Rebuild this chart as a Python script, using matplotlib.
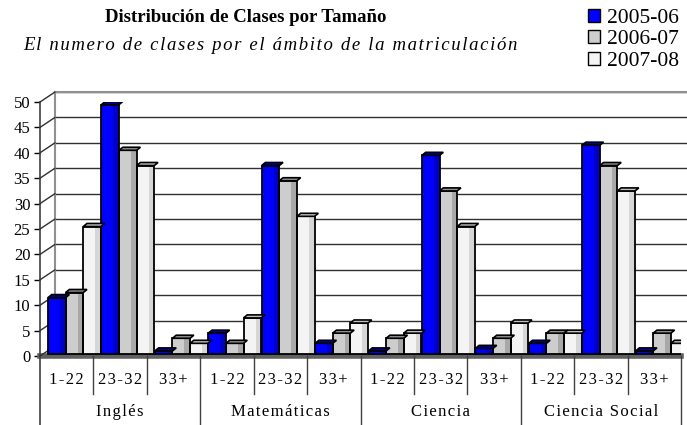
import matplotlib
matplotlib.use("Agg")
import matplotlib.pyplot as plt
import matplotlib.transforms as mtransforms
from matplotlib.patches import Polygon, Patch
import numpy as np

plt.rcParams['font.family'] = ['Liberation Serif', 'DejaVu Serif']

groups = ["Inglés", "Matemáticas", "Ciencia", "Ciencia Social"]
sizes = ["1-22", "23-32", "33+"]
years = ["2005-06", "2006-07", "2007-08"]

# values per group, in order 1-22, 23-32, 33+
v2005 = [11, 49, 0.5, 4, 37, 2, 0.5, 39, 1, 2, 41, 0.5]
v2006 = [12, 40, 3, 2, 34, 4, 3, 32, 3, 4, 37, 4]
v2007 = [25, 37, 2, 7, 27, 6, 4, 25, 6, 4, 32, 2]
series = [v2005, v2006, v2007]

face = ['#0000ff', '#cdcdcd', '#f4f4f4']
side = ['#0000c8', '#a8a8a8', '#d6d6d6']
cap = ['#0000a0', '#909090', '#c0c0c0']


def spaced(s):
    # Excel-like wide letter spacing
    return '\u200a'.join(s)


fig = plt.figure(figsize=(6.87, 4.25), dpi=100)
ax = fig.add_axes([40 / 687, 1 - 356 / 425, 641 / 687, 254 / 425])
ax.set_xlim(0, 12)
ax.set_ylim(0, 50)
for s in ax.spines.values():
    s.set_visible(False)

# back wall offset (3D look)
back = ax.get_yaxis_transform() + mtransforms.ScaledTranslation(0.15, 0.10, fig.dpi_scale_trans)
ticks = np.arange(0, 51, 5)
for t in ticks[1:]:
    ax.plot([0, 1], [t, t], color='#303030', lw=1, transform=back, clip_on=False, zorder=1)
ax.plot([0, 1], [50, 50], color='#909090', lw=1.5, transform=back, clip_on=False, zorder=1)
ax.plot([0, 0], [0, 50], color='#909090', lw=1.5, transform=back, clip_on=False, zorder=1)
# left wall diagonals
for t in ticks:
    ax.annotate("", xy=(0, t), xycoords=back, xytext=(0, t), textcoords=ax.get_yaxis_transform(),
                arrowprops=dict(arrowstyle='-', color='#303030', lw=1, shrinkA=0, shrinkB=0))

# floor
ax.axhline(0, color='#606060', lw=4, zorder=2, clip_on=False)

# bars sit a little behind the front edge
lift = ax.transData + mtransforms.ScaledTranslation(0, 0.025, fig.dpi_scale_trans)
w = 0.33
d = 0.07
dy = 0.6
x = np.arange(12)
for k, vals in enumerate(series):
    x0 = x + 0.15 + k * w
    b1 = ax.bar(x0, vals, width=w, align='edge', color=face[k], zorder=3)
    b2 = ax.bar(x0 + w * 0.68, vals, width=w * 0.32, align='edge', color=side[k], zorder=3)
    b3 = ax.bar(x0, vals, width=w, align='edge', facecolor='none', edgecolor='black', lw=1.3, zorder=4)
    for bars in (b1, b2, b3):
        for p in bars:
            p.set_transform(lift)
    for xi, h in zip(x0, vals):
        ax.add_patch(Polygon([(xi, h), (xi + w, h), (xi + w + d, h + dy), (xi + d, h + dy)],
                             closed=True, facecolor=cap[k], edgecolor='black', lw=1.2, zorder=5,
                             transform=lift))

# y axis
ax.set_yticks(ticks)
ax.set_xticks([])
ax.tick_params(axis='y', length=4, width=1, pad=3, labelsize=12)
ax.plot([0, 0], [0, 50], color='#404040', lw=1.2, transform=ax.get_yaxis_transform(), clip_on=False)

# category table below the plot
xt = ax.get_xaxis_transform()
ax.plot([0, 0], [0, -0.28], color='#404040', lw=1.2, transform=xt, clip_on=False)
for i in range(1, 13):
    bottom = -0.28 if i % 3 == 0 else -0.15
    ax.plot([i, i], [0, bottom], color='#404040', lw=1, transform=xt, clip_on=False)
for i in range(12):
    ax.text(i + 0.5, -0.094, spaced(sizes[i % 3]), transform=xt, ha='center', va='center', fontsize=12)
for g, name in enumerate(groups):
    ax.text(g * 3 + 1.5, -0.22, spaced(name), transform=xt, ha='center', va='center', fontsize=12)

fig.text(246 / 687, 1 - 18 / 425, "Distribución de Clases por Tamaño", ha='center', va='center',
         fontsize=13.5, fontweight='bold')
fig.text(270 / 687, 1 - 45 / 425, spaced("El numero de clases por el ámbito de la matriculación"),
         ha='center', va='center', fontsize=13.5, style='italic')

handles = [Patch(facecolor=face[k], edgecolor='black', lw=1) for k in range(3)]
fig.legend(handles, years, loc='upper right', bbox_to_anchor=(0.995, 0.99), frameon=False, fontsize=15.5,
           handlelength=0.55, handleheight=0.55, handletextpad=0.35, labelspacing=0.12,
           borderpad=0.1, borderaxespad=0.1)

fig.savefig("out.png", dpi=100)
